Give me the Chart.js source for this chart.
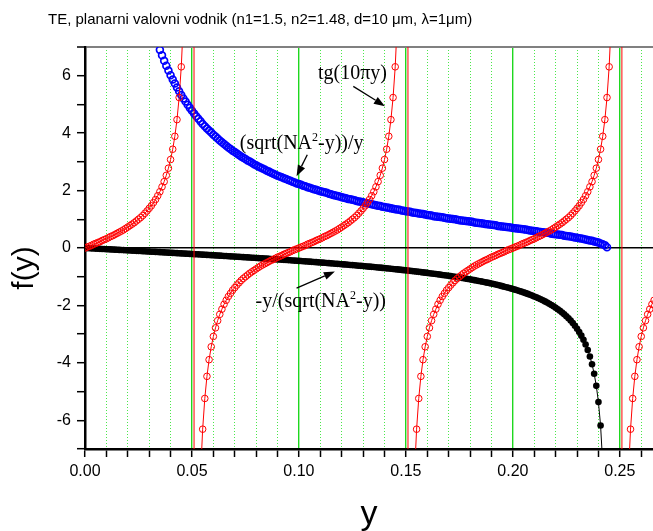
<!DOCTYPE html>
<html><head><meta charset="utf-8">
<script src="https://cdn.jsdelivr.net/npm/chart.js@4.4.0/dist/chart.umd.min.js"></script>
<style>
html,body{margin:0;padding:0;background:#fff;}
#wrap{position:relative;width:653px;height:531px;overflow:hidden;}
#title{position:absolute;left:48px;top:10px;font:15px "Liberation Sans",Arial,sans-serif;line-height:17px;color:#000;white-space:nowrap;}
canvas{position:absolute;left:0;top:0;}
</style></head><body>
<div id="wrap"><canvas id="c" width="653" height="531"></canvas><div id="title">TE, planarni valovni vodnik (n1=1.5, n2=1.48, d=10 &mu;m, &lambda;=1&mu;m)</div></div>
<script>
// sample grid of the abscissa y: index k -> y = k * yStep
const yStep = 0.001;

// tg(10*pi*y), k = 0..266 (large value at the poles)
const tanValues = [
0,0.03,0.06,0.09,0.13,0.16,0.19,0.22,0.26,0.29,
0.32,0.36,0.40,0.43,0.47,0.51,0.55,0.59,0.63,0.68,
0.73,0.78,0.83,0.88,0.94,1.00,1.06,1.13,1.21,1.29,
1.38,1.47,1.58,1.69,1.82,1.96,2.13,2.31,2.53,2.78,
3.08,3.44,3.89,4.47,5.24,6.31,7.92,10.58,15.89,31.82,
1000,-31.82,-15.89,-10.58,-7.92,-6.31,-5.24,-4.47,-3.89,-3.44,
-3.08,-2.78,-2.53,-2.31,-2.13,-1.96,-1.82,-1.69,-1.58,-1.47,
-1.38,-1.29,-1.21,-1.13,-1.06,-1.00,-0.94,-0.88,-0.83,-0.78,
-0.73,-0.68,-0.63,-0.59,-0.55,-0.51,-0.47,-0.43,-0.40,-0.36,
-0.32,-0.29,-0.26,-0.22,-0.19,-0.16,-0.13,-0.09,-0.06,-0.03,
0,0.03,0.06,0.09,0.13,0.16,0.19,0.22,0.26,0.29,
0.32,0.36,0.40,0.43,0.47,0.51,0.55,0.59,0.63,0.68,
0.73,0.78,0.83,0.88,0.94,1.00,1.06,1.13,1.21,1.29,
1.38,1.47,1.58,1.69,1.82,1.96,2.13,2.31,2.53,2.78,
3.08,3.44,3.89,4.47,5.24,6.31,7.92,10.58,15.89,31.82,
1000,-31.82,-15.89,-10.58,-7.92,-6.31,-5.24,-4.47,-3.89,-3.44,
-3.08,-2.78,-2.53,-2.31,-2.13,-1.96,-1.82,-1.69,-1.58,-1.47,
-1.38,-1.29,-1.21,-1.13,-1.06,-1.00,-0.94,-0.88,-0.83,-0.78,
-0.73,-0.68,-0.63,-0.59,-0.55,-0.51,-0.47,-0.43,-0.40,-0.36,
-0.32,-0.29,-0.26,-0.22,-0.19,-0.16,-0.13,-0.09,-0.06,-0.03,
0,0.03,0.06,0.09,0.13,0.16,0.19,0.22,0.26,0.29,
0.32,0.36,0.40,0.43,0.47,0.51,0.55,0.59,0.63,0.68,
0.73,0.78,0.83,0.88,0.94,1.00,1.06,1.13,1.21,1.29,
1.38,1.47,1.58,1.69,1.82,1.96,2.13,2.31,2.53,2.78,
3.08,3.44,3.89,4.47,5.24,6.31,7.92,10.58,15.89,31.82,
1000,-31.82,-15.89,-10.58,-7.92,-6.31,-5.24,-4.47,-3.89,-3.44,
-3.08,-2.78,-2.53,-2.31,-2.13,-1.96,-1.82
];

// (sqrt(NA^2-y))/y, k = 35..244
const rootStart = 35;
const rootValues = [
6.90,6.71,6.52,6.35,6.18,6.02,5.87,5.73,5.59,5.46,
5.33,5.21,5.10,4.99,4.88,4.78,4.68,4.59,4.50,4.41,
4.32,4.24,4.16,4.09,4.02,3.94,3.88,3.81,3.74,3.68,
3.62,3.56,3.50,3.45,3.39,3.34,3.29,3.24,3.19,3.14,
3.10,3.05,3.01,2.97,2.92,2.88,2.84,2.80,2.77,2.73,
2.69,2.66,2.62,2.59,2.55,2.52,2.49,2.46,2.43,2.40,
2.37,2.34,2.31,2.28,2.25,2.23,2.20,2.17,2.15,2.12,
2.10,2.07,2.05,2.03,2.00,1.98,1.96,1.94,1.92,1.89,
1.87,1.85,1.83,1.81,1.79,1.77,1.75,1.73,1.71,1.70,
1.68,1.66,1.64,1.62,1.61,1.59,1.57,1.56,1.54,1.52,
1.51,1.49,1.47,1.46,1.44,1.43,1.41,1.40,1.38,1.37,
1.35,1.34,1.33,1.31,1.30,1.28,1.27,1.26,1.24,1.23,
1.22,1.20,1.19,1.18,1.17,1.15,1.14,1.13,1.11,1.10,
1.09,1.08,1.07,1.05,1.04,1.03,1.02,1.01,1.00,0.98,
0.97,0.96,0.95,0.94,0.93,0.92,0.91,0.89,0.88,0.87,
0.86,0.85,0.84,0.83,0.82,0.81,0.80,0.79,0.77,0.76,
0.75,0.74,0.73,0.72,0.71,0.70,0.69,0.68,0.67,0.66,
0.65,0.64,0.63,0.61,0.60,0.59,0.58,0.57,0.56,0.55,
0.54,0.53,0.52,0.50,0.49,0.48,0.47,0.46,0.45,0.43,
0.42,0.41,0.40,0.38,0.37,0.36,0.34,0.33,0.31,0.30,
0.28,0.26,0.25,0.23,0.21,0.19,0.16,0.13,0.10,0.03
];

// -y/(sqrt(NA^2-y)), k = 0..244
const negStart = 0;
const negValues = [
0,-0.004,-0.008,-0.012,-0.016,-0.021,-0.025,-0.029,-0.033,-0.037,
-0.041,-0.045,-0.049,-0.053,-0.057,-0.062,-0.066,-0.070,-0.074,-0.078,
-0.082,-0.086,-0.090,-0.095,-0.099,-0.103,-0.107,-0.111,-0.115,-0.120,
-0.124,-0.128,-0.132,-0.136,-0.141,-0.145,-0.149,-0.153,-0.158,-0.162,
-0.166,-0.170,-0.175,-0.179,-0.183,-0.188,-0.192,-0.196,-0.201,-0.205,
-0.209,-0.214,-0.218,-0.222,-0.227,-0.231,-0.236,-0.240,-0.245,-0.249,
-0.254,-0.258,-0.263,-0.267,-0.272,-0.276,-0.281,-0.285,-0.290,-0.295,
-0.299,-0.304,-0.309,-0.313,-0.318,-0.323,-0.328,-0.332,-0.337,-0.342,
-0.347,-0.352,-0.357,-0.362,-0.366,-0.371,-0.376,-0.381,-0.386,-0.392,
-0.397,-0.402,-0.407,-0.412,-0.417,-0.422,-0.428,-0.433,-0.438,-0.444,
-0.449,-0.454,-0.460,-0.465,-0.471,-0.476,-0.482,-0.488,-0.493,-0.499,
-0.505,-0.511,-0.516,-0.522,-0.528,-0.534,-0.540,-0.546,-0.552,-0.558,
-0.564,-0.571,-0.577,-0.583,-0.590,-0.596,-0.603,-0.609,-0.616,-0.622,
-0.629,-0.636,-0.643,-0.650,-0.657,-0.664,-0.671,-0.678,-0.685,-0.693,
-0.700,-0.708,-0.715,-0.723,-0.730,-0.738,-0.746,-0.754,-0.762,-0.771,
-0.779,-0.787,-0.796,-0.804,-0.813,-0.822,-0.831,-0.840,-0.849,-0.858,
-0.868,-0.877,-0.887,-0.897,-0.907,-0.917,-0.927,-0.938,-0.948,-0.959,
-0.970,-0.981,-0.993,-1.004,-1.016,-1.028,-1.040,-1.053,-1.065,-1.078,
-1.091,-1.105,-1.119,-1.133,-1.147,-1.161,-1.176,-1.192,-1.207,-1.223,
-1.239,-1.256,-1.273,-1.291,-1.309,-1.328,-1.347,-1.366,-1.386,-1.407,
-1.429,-1.451,-1.473,-1.497,-1.521,-1.546,-1.572,-1.599,-1.627,-1.657,
-1.687,-1.718,-1.751,-1.786,-1.821,-1.859,-1.899,-1.940,-1.984,-2.030,
-2.079,-2.131,-2.186,-2.245,-2.307,-2.375,-2.448,-2.527,-2.613,-2.707,
-2.810,-2.925,-3.053,-3.197,-3.362,-3.553,-3.777,-4.046,-4.378,-4.800,
-5.367,-6.184,-7.519,-10.35,-30.5
];

// axes
const xMin = 0, xMax = 0.2655, xMinorStep = 0.01;
const xTickLabels = ['0.00','0.05','0.10','0.15','0.20','0.25'];
const yMin = -7, yMax = 7;
const yTickLabels = ['-6','-4','-2','0','2','4','6'];

// annotations (text parts, anchor in data units) and arrows (data units)
const annotationParts = [
  [{t:'tg(10\u03C0y)'}],
  [{t:'(sqrt(NA'},{t:'2',sup:true},{t:'-y))/y'}],
  [{t:'-y/(sqrt(NA'},{t:'2',sup:true},{t:'-y))'}]
];
const annotationX = [0.125, 0.1013, 0.1102];
const annotationY = [5.90, 3.46, -2.07];
const arrowFrom = [[0.1254, 5.63],[0.1039, 3.25],[0.0989, -1.40]];
const arrowTo   = [[0.1402, 4.94],[0.0989, 2.50],[0.1168, -0.82]];

const toPoints = (vals, start) => vals.map((v, i) => ({x: +((start + i) * yStep).toFixed(3), y: v}));
const isMajorX = v => { const r = Math.round(v * 100); return Math.abs(v * 100 - r) < 1e-6 && r % 5 === 0; };
const SANS = '"Liberation Sans", Arial, sans-serif';
const SERIF = '"Liberation Serif", "Times New Roman", serif';

const overlay = {
  id: 'overlay',
  afterDatasetsDraw(chart) {
    const {ctx, scales: {x, y}} = chart;
    ctx.save();
    ctx.fillStyle = '#000';
    ctx.textBaseline = 'alphabetic';
    ctx.textAlign = 'left';
    const mainFont = '20px ' + SERIF, supFont = '12px ' + SERIF;
    annotationParts.forEach((parts, i) => {
      const cx = x.getPixelForValue(annotationX[i]);
      const by = y.getPixelForValue(annotationY[i]);
      let total = 0;
      parts.forEach(p => { ctx.font = p.sup ? supFont : mainFont; total += ctx.measureText(p.t).width; });
      let px = cx - total / 2;
      parts.forEach(p => {
        ctx.font = p.sup ? supFont : mainFont;
        ctx.fillText(p.t, px, p.sup ? by - 8 : by);
        px += ctx.measureText(p.t).width;
      });
    });
    ctx.strokeStyle = '#000';
    ctx.lineWidth = 1.3;
    arrowFrom.forEach((f, i) => {
      const x1 = x.getPixelForValue(f[0]), y1 = y.getPixelForValue(f[1]);
      const x2 = x.getPixelForValue(arrowTo[i][0]), y2 = y.getPixelForValue(arrowTo[i][1]);
      const a = Math.atan2(y2 - y1, x2 - x1);
      const L = 11, W = 4;
      const bx = x2 - L * Math.cos(a), byy = y2 - L * Math.sin(a);
      ctx.beginPath(); ctx.moveTo(x1, y1); ctx.lineTo(bx, byy); ctx.stroke();
      ctx.beginPath();
      ctx.moveTo(x2, y2);
      ctx.lineTo(bx + W * Math.sin(a), byy - W * Math.cos(a));
      ctx.lineTo(bx - W * Math.sin(a), byy + W * Math.cos(a));
      ctx.closePath(); ctx.fill();
    });
    ctx.restore();
  },
  afterDraw(chart) {
    const {ctx, chartArea} = chart;
    ctx.save();
    ctx.translate(25, (chartArea.top + chartArea.bottom) / 2 + 20);
    ctx.rotate(-Math.PI / 2);
    ctx.font = '30px ' + SANS;
    ctx.fillStyle = '#000';
    ctx.textAlign = 'center';
    ctx.textBaseline = 'middle';
    ctx.fillText('f(y)', 0, 0);
    ctx.restore();
  }
};

new Chart(document.getElementById('c'), {
  type: 'scatter',
  data: {
    datasets: [
      {
        label: 'tg(10\u03C0y)', data: toPoints(tanValues, 0), showLine: true,
        borderColor: '#ff0000', borderWidth: 1,
        pointRadius: 3.3, pointBorderWidth: 1, pointBorderColor: '#ff0000',
        pointBackgroundColor: 'rgba(255,255,255,0)'
      },
      {
        label: '(sqrt(NA2-y))/y', data: toPoints(rootValues, rootStart), showLine: false,
        pointRadius: 3.4, pointBorderWidth: 1.7, pointBorderColor: '#0000ff',
        pointBackgroundColor: 'rgba(255,255,255,0)'
      },
      {
        label: '-y/(sqrt(NA2-y))', data: toPoints(negValues, negStart), showLine: true,
        borderColor: '#000', borderWidth: 1,
        pointRadius: 3.3, pointBorderWidth: 0, pointBorderColor: '#000',
        pointBackgroundColor: '#000'
      }
    ]
  },
  options: {
    responsive: false, animation: false, devicePixelRatio: 1,
    layout: {autoPadding: false, padding: {top: 47, left: 0, right: 0, bottom: 0}},
    plugins: {legend: {display: false}, tooltip: {enabled: false}, title: {display: false}},
    scales: {
      x: {
        type: 'linear', min: xMin, max: xMax,
        afterFit: s => { s.height = 82; s.paddingLeft = 0; s.paddingRight = 0; },
        ticks: {
          stepSize: xMinorStep, includeBounds: false, autoSkip: false, maxRotation: 0,
          color: '#000', padding: 5, font: {family: SANS, size: 16},
          callback: v => { if (!isMajorX(v)) return ''; const s = v.toFixed(2); return xTickLabels.includes(s) ? s : ''; }
        },
        grid: {
          color: c => (c.tick && isMajorX(c.tick.value)) ? '#1ed81e' : '#4be84b',
          lineWidth: c => (c.tick && isMajorX(c.tick.value)) ? 1.4 : 1,
          tickColor: '#000', tickLength: 8, tickWidth: 1.5
        },
        border: {
          display: true, color: '#000', width: 2.5,
          dash: c => (c.tick && !isMajorX(c.tick.value)) ? [1, 2] : []
        },
        title: {display: true, text: 'y', color: '#000', font: {family: SANS, size: 34}, padding: {top: 0, bottom: -4}}
      },
      y: {
        type: 'linear', min: yMin, max: yMax,
        afterFit: s => { s.width = 85; s.paddingTop = 0; s.paddingBottom = 0; },
        ticks: {
          stepSize: 1, autoSkip: false, color: '#000', padding: 6, font: {family: SANS, size: 16},
          callback: v => { const s = String(v); return yTickLabels.includes(s) ? s : ''; }
        },
        grid: {
          color: c => !c.tick ? 'rgba(0,0,0,0)' : (c.tick.value === 0 ? '#000' : (c.tick.value === yMax ? '#808080' : 'rgba(0,0,0,0)')),
          lineWidth: c => (c.tick && c.tick.value === yMax) ? 2 : 1.4,
          tickColor: '#000', tickLength: 8, tickWidth: 1.5
        },
        border: {display: true, color: '#000', width: 2.5}
      }
    }
  },
  plugins: [overlay]
});
</script>
</body></html>
